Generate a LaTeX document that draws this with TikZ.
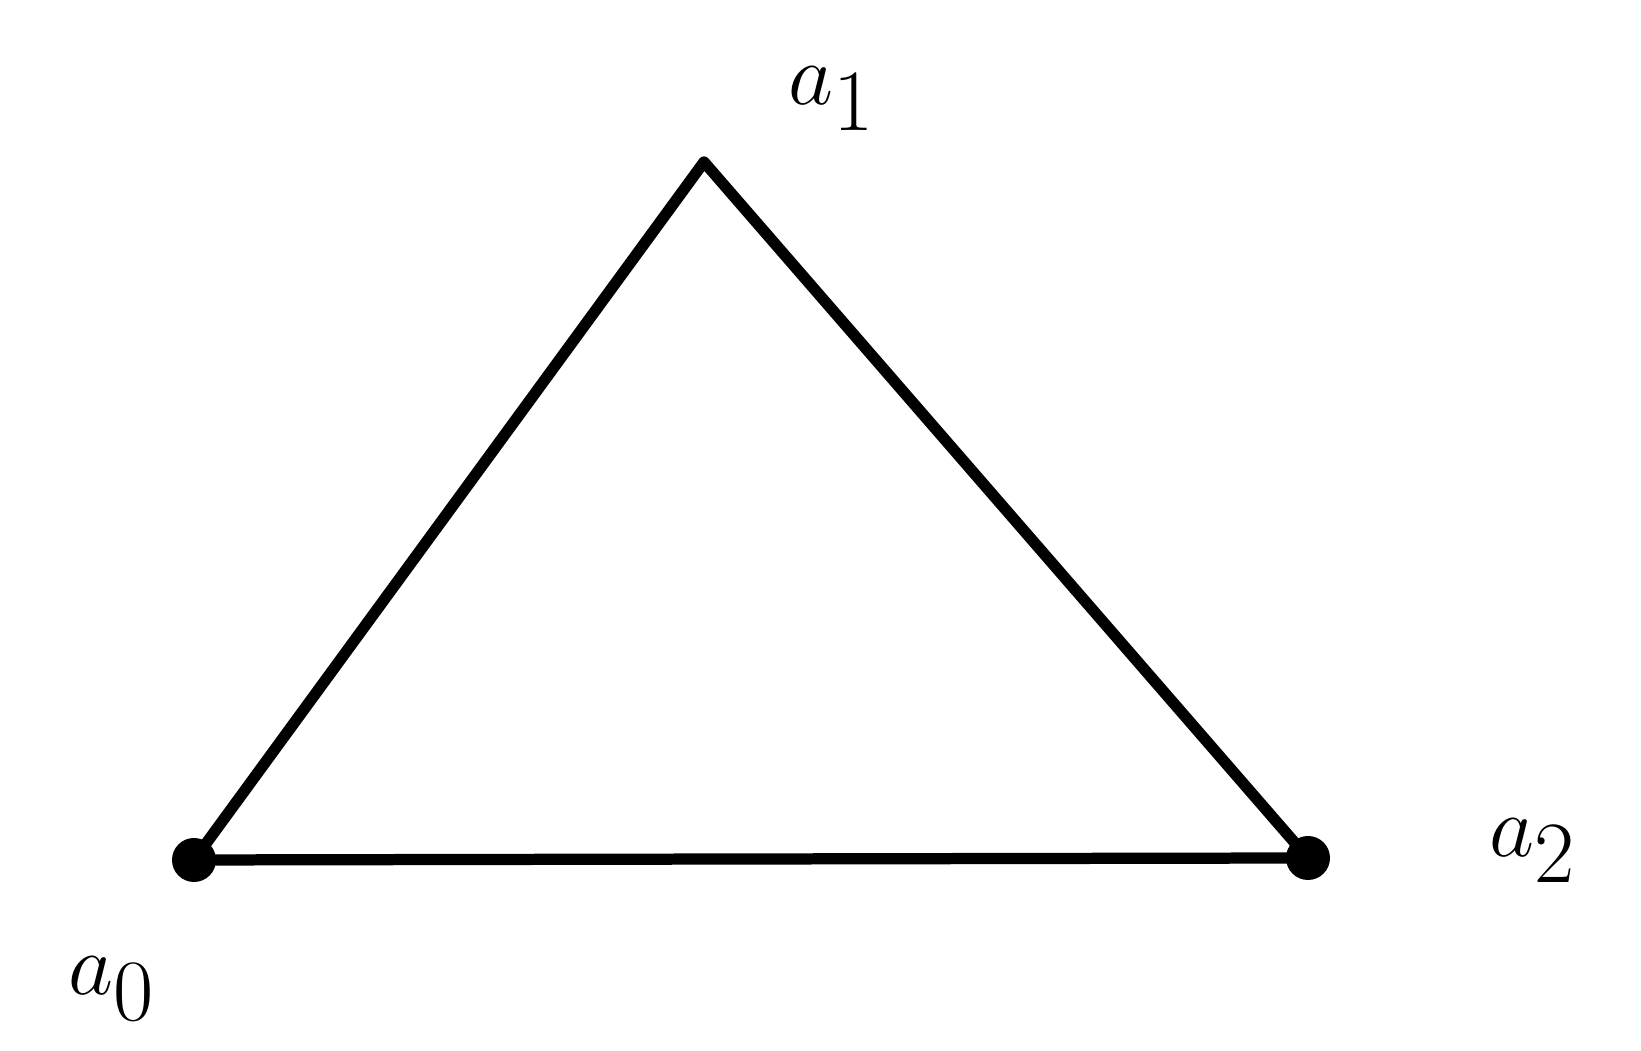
\documentclass[tikz,border=0pt]{standalone}
\usepackage{tikz}

\tikzset{
    sommet/.style={fill=black, circle, inner sep=0pt, minimum size=0.44cm},
    etiquette/.style={font=\fontsize{46}{52}\selectfont}
}

\begin{document}
\begin{tikzpicture}
        \useasboundingbox (0,0) rectangle (16.41,10.51);

        % Sommets du triangle
        \coordinate (a0) at (1.94,1.91);
        \coordinate (a1) at (7.04,8.89);
        \coordinate (a2) at (13.08,1.93);

        % Triangle
        \draw[line width=3.2pt, line join=round] (a0) -- (a1) -- (a2) -- cycle;

        % Points aux sommets
        \node[sommet] (p0) at (a0) {};
        \node[sommet] (p2) at (a2) {};

        % Noms des sommets
        \node[etiquette] (n0) at (1.12,0.62) {$a_0$};
        \node[etiquette] (n1) at (8.32,9.52) {$a_1$};
        \node[etiquette] (n2) at (15.33,2.00) {$a_2$};
    \end{tikzpicture}
\end{document}
